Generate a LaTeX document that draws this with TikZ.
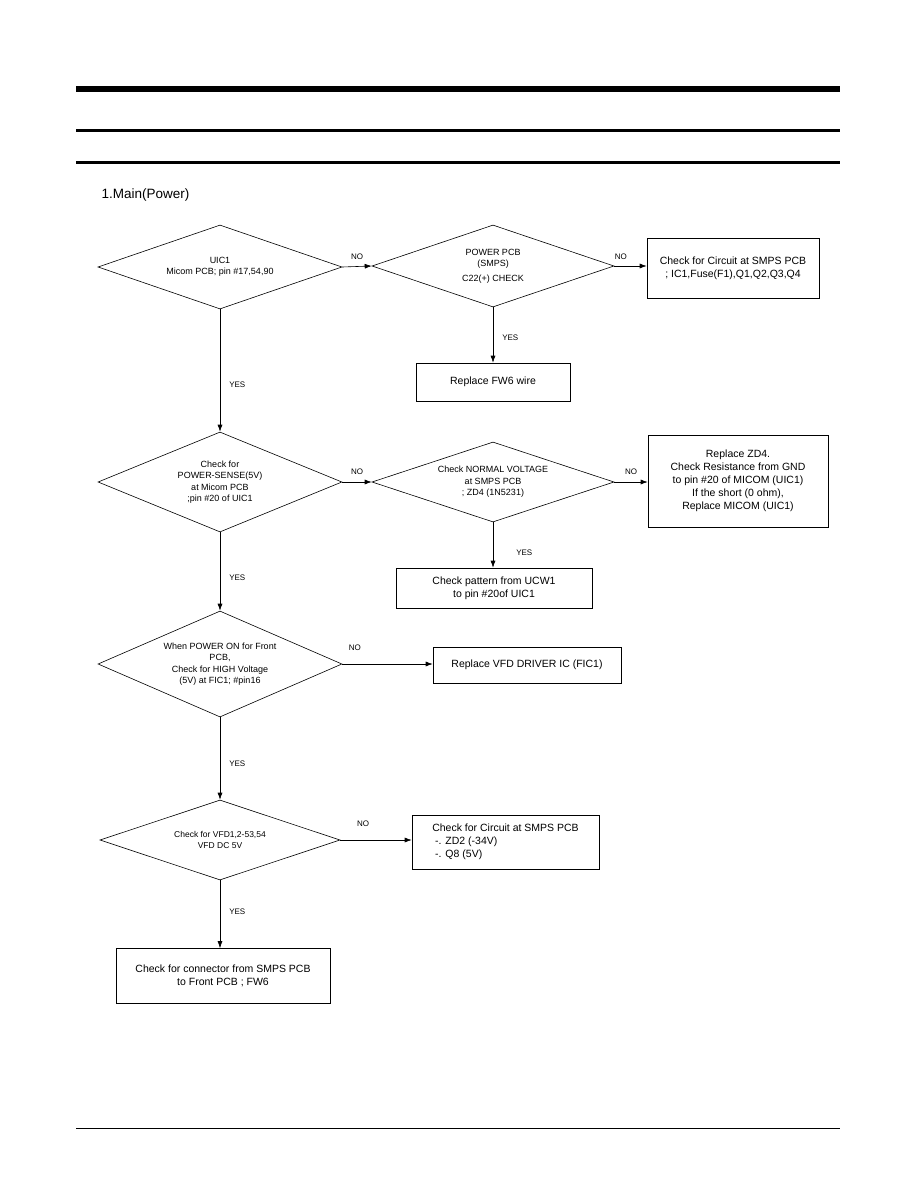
\documentclass[tikz,border=0pt]{standalone}
\usepackage{fontspec}
\setmainfont{Liberation Sans}
\usepackage{tikz}
\usetikzlibrary{positioning,arrows.meta,shapes.geometric,calc}

\tikzset{
  decision/.style={draw, diamond, aspect=2.4, inner sep=0pt, align=center,
    font=\fontsize{9}{11.5}\selectfont, line width=0.6pt},
  action/.style={draw, rectangle, align=center, inner sep=2pt,
    font=\fontsize{10.5}{13}\selectfont, line width=0.6pt},
  flow/.style={line width=0.6pt, -{Latex[length=7pt,width=5pt]}},
  tag/.style={font=\fontsize{8}{9}\selectfont, inner sep=1pt}
}

\begin{document}
\begin{tikzpicture}[x=1pt, y=-1pt]
    \useasboundingbox (0,0) rectangle (918,1190);
    \fill (76,86) rectangle (840,92);
    \fill (76,129) rectangle (840,132);
    \fill (76,161) rectangle (840,164);
    \fill (76,1127.5) rectangle (840,1128.5);

    \node[anchor=west, font=\fontsize{13.5}{15}\selectfont] (title) at (98,195) {1.Main(Power)};

    \node[decision, minimum width=244pt, minimum height=84pt] (uic) at (220,267)
      {UIC1\\Micom PCB; pin \#17,54,90};
    \node[decision, minimum width=242pt, minimum height=82pt] (smps) at (493,266)
      {POWER PCB\\(SMPS)\\[3pt]C22(+) CHECK};
    \node[action, minimum width=172pt, minimum height=60pt] (circuit) at (733,268)
      {Check for Circuit at SMPS PCB\\; IC1,Fuse(F1),Q1,Q2,Q3,Q4};
    \node[action, minimum width=154pt, minimum height=38pt] (fw6) at (493,382)
      {Replace FW6 wire};

    \node[decision, minimum width=244pt, minimum height=100pt] (sense) at (220,482)
      {Check for\\POWER-SENSE(5V)\\at Micom PCB\\;pin \#20 of UIC1};
    \node[decision, minimum width=242pt, minimum height=80pt] (normal) at (493,482)
      {Check NORMAL VOLTAGE\\at SMPS PCB\\; ZD4 (1N5231)};
    \node[action, minimum width=180pt, minimum height=92pt] (zd4) at (738,481)
      {Replace ZD4.\\Check Resistance from GND\\to pin \#20 of MICOM (UIC1)\\If the short (0 ohm),\\Replace MICOM (UIC1)};
    \node[action, minimum width=196pt, minimum height=40pt] (pattern) at (494,588)
      {Check pattern from UCW1\\to pin \#20of UIC1};

    \node[decision, minimum width=244pt, minimum height=106pt] (front) at (220,664)
      {When POWER ON for Front\\PCB,\\Check for HIGH Voltage\\(5V) at FIC1; \#pin16};
    \node[action, minimum width=188pt, minimum height=36pt] (driver) at (527,665)
      {Replace VFD DRIVER IC (FIC1)};

    \node[decision, minimum width=240pt, minimum height=80pt, font=\fontsize{8.5}{11}\selectfont] (vfd) at (220,840)
      {Check for VFD1,2-53,54\\VFD DC 5V};
    \node[action, minimum width=187pt, minimum height=54pt, align=left] (zd2) at (505.5,842)
      {Check for Circuit at SMPS PCB\\\ -. ZD2 (-34V)\\\ -. Q8 (5V)};

    \node[action, minimum width=214pt, minimum height=55pt] (conn) at (223,976)
      {Check for connector from SMPS PCB\\to Front PCB ; FW6};

    \draw[flow] (uic.east) -- node[tag, above=6pt] {NO} (smps.west);
    \draw[flow] (smps.east) -- node[tag, above=5pt, pos=0.2] {NO} (circuit.west |- smps.east);
    \draw[flow] (smps.south) -- node[tag, right=8pt, pos=0.55] {YES} (fw6.north);
    \draw[flow] (uic.south) -- node[tag, right=8pt, pos=0.62] {YES} (sense.north);

    \draw[flow] (sense.east) -- node[tag, above=6pt] {NO} (normal.west);
    \draw[flow] (normal.east) -- node[tag, above=6pt] {NO} (zd4.west |- normal.east);
    \draw[flow] (normal.south) -- node[tag, right=22pt, pos=0.67] {YES} (pattern.north -| normal.south);
    \draw[flow] (sense.south) -- node[tag, right=8pt, pos=0.58] {YES} (front.north);

    \draw[flow] (front.east) -- node[tag, above=12pt, pos=0.14] {NO} (driver.west |- front.east);
    \draw[flow] (front.south) -- node[tag, right=8pt, pos=0.56] {YES} (vfd.north);

    \draw[flow] (vfd.east) -- node[tag, above=12pt, pos=0.32] {NO} (zd2.west |- vfd.east);
    \draw[flow] (vfd.south) -- node[tag, right=8pt, pos=0.46] {YES} (vfd.south |- conn.north);
\end{tikzpicture}
\end{document}
